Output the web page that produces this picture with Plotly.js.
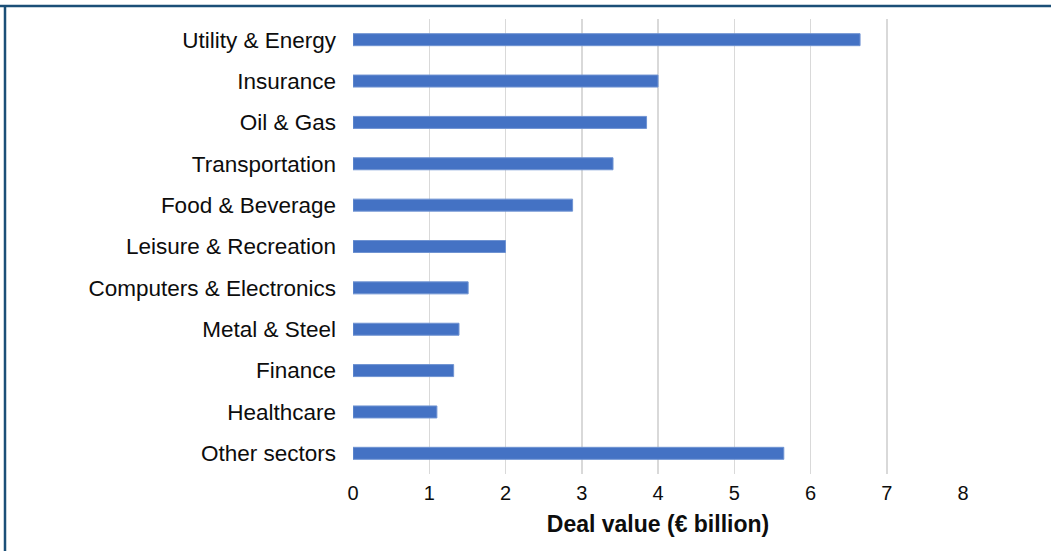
<!DOCTYPE html>
<html>
<head>
<meta charset="utf-8">
<script src="https://cdn.plot.ly/plotly-3.0.1.min.js"></script>
<style>
html, body { margin: 0; padding: 0; background: #fff; }
#chart { width: 1051px; height: 551px; }
</style>
</head>
<body>
<div id="chart"></div>
<script>
const sectors = [
  "Utility & Energy", "Insurance", "Oil & Gas", "Transportation",
  "Food & Beverage", "Leisure & Recreation", "Computers & Electronics",
  "Metal & Steel", "Finance", "Healthcare", "Other sectors"
];
const dealValues = [6.65, 4.0, 3.85, 3.41, 2.88, 2.0, 1.51, 1.39, 1.32, 1.10, 5.65];
const xTicks = [0, 1, 2, 3, 4, 5, 6, 7, 8];

const trace = {
  type: "bar",
  orientation: "h",
  y: sectors,
  x: dealValues,
  marker: { color: "#4472C4", line: { color: "#6F93D2", width: 1 } },
  hoverinfo: "x+y"
};

const layout = {
  width: 1051,
  height: 551,
  margin: { l: 353, r: 88, t: 19, b: 77 },
  paper_bgcolor: "#ffffff",
  plot_bgcolor: "#ffffff",
  bargap: 0.71,
  showlegend: false,
  font: { family: "Liberation Sans, Arial, sans-serif", color: "#0d0d0d" },
  xaxis: {
    range: [0, 8],
    tickvals: xTicks,
    ticktext: xTicks.map(String),
    showgrid: true,
    gridcolor: "#D9D9D9",
    gridwidth: 1.5,
    zeroline: false,
    showline: false,
    ticks: "",
    tickfont: { size: 20, color: "#0d0d0d" },
    ticklabelstandoff: 5,
    title: { text: "<b>Deal value (€ billion)</b>", font: { size: 23, color: "#0d0d0d" }, standoff: 12 }
  },
  yaxis: {
    type: "category",
    categoryorder: "array",
    categoryarray: sectors,
    autorange: "reversed",
    showgrid: false,
    zeroline: false,
    showline: false,
    ticks: "",
    tickfont: { size: 22.5, color: "#0d0d0d" },
    ticklabelstandoff: 16
  },
  shapes: [
    { type: "line", xref: "paper", yref: "paper", x0: -353/610, x1: (1051 - 353) / 610, y0: 1 + 13/455, y1: 1 + 13/455,
      line: { color: "#1B4F77", width: 2.5 } },
    { type: "line", xref: "paper", yref: "paper", x0: -348/610, x1: -348/610, y0: 1 + 13/455, y1: -77/455,
      line: { color: "#1B4F77", width: 2.5 } }
  ]
};

Plotly.newPlot("chart", [trace], layout, { displayModeBar: false, staticPlot: true });
</script>
</body>
</html>
